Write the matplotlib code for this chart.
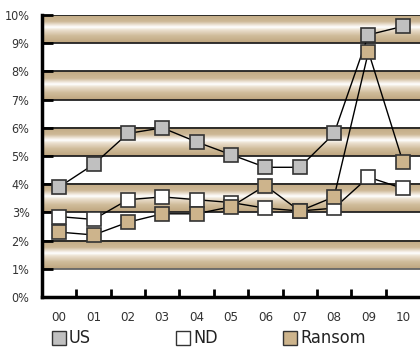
import matplotlib.pyplot as plt
import numpy as np
from matplotlib.colors import LinearSegmentedColormap
from matplotlib.lines import Line2D

plt.rcParams['font.family'] = ['DejaVu Sans']
plt.rcParams['font.stretch'] = 'condensed'

years = ['00', '01', '02', '03', '04', '05', '06', '07', '08', '09', '10']
us = [3.9, 4.7, 5.8, 6.0, 5.5, 5.05, 4.6, 4.6, 5.8, 9.3, 9.6]
nd = [2.85, 2.75, 3.45, 3.55, 3.45, 3.35, 3.15, 3.05, 3.15, 4.25, 3.85]
ransom = [2.3, 2.2, 2.65, 2.95, 2.95, 3.2, 3.95, 3.05, 3.55, 8.7, 4.8]
yticks = [0, 1, 2, 3, 4, 5, 6, 7, 8, 9, 10]
ytick_labels = ['%d%%' % v for v in yticks]
names = ['US', 'ND', 'Ransom']
colors = ['#c0c0c0', 'white', '#cdb48c']

fig = plt.figure(figsize=(4.2, 3.51), dpi=100)
ax = fig.add_axes([0.1, 0.154, 0.9, 0.803])
x = np.arange(len(years))
ax.set_xlim(-0.5, len(years) - 0.5)
ax.set_ylim(0, 10)

# shaded cylinder-style bands
band_cmap = LinearSegmentedColormap.from_list('band', [
    (0.0, '#c2aa84'), (0.25, '#cdb896'), (0.38, '#f0e8dc'), (0.45, '#ffffff'),
    (0.55, '#ebe0cf'), (0.75, '#d0bc9b'), (1.0, '#bea67e')])
grad = np.linspace(0, 1, 64).reshape(-1, 1)
for lo in [1, 3, 5, 7, 9]:
    ax.imshow(grad, cmap=band_cmap, aspect='auto', origin='upper',
              extent=(-0.5, len(years) - 0.5, lo, lo + 1), zorder=0)
for v in range(1, 11):
    ax.axhline(v, color='#222222' if v != 1 else '#666666', lw=1.3, zorder=1)

line_kw = dict(color='black', lw=1, marker='s', markersize=9.5,
               markeredgecolor='#333333', markeredgewidth=1.2, zorder=3)
for vals, c in zip([us, nd, ransom], colors):
    ax.plot(x, vals, markerfacecolor=c, **line_kw)

ax.set_yticks(yticks)
ax.set_yticklabels(ytick_labels, fontsize=9, color='#333333')
ax.set_xticks(x)
ax.set_xticklabels(years, fontsize=9.5, color='#333333')
ax.tick_params(axis='x', length=0, pad=10)
ax.set_xticks(np.arange(0.5, len(years) - 0.5), minor=True)
ax.tick_params(axis='x', which='minor', direction='in', length=6, width=2)
ax.tick_params(axis='y', direction='in', length=8, width=2, pad=9)

for s in ['top', 'right']:
    ax.spines[s].set_visible(False)
ax.spines['left'].set_linewidth(2.5)
ax.spines['bottom'].set_linewidth(2.5)

# legend placed by hand, as in the original
leg_y = 1 - 338 / 351
for name, c, mx in zip(names, colors, [58.5, 183, 290]):
    fig.add_artist(Line2D([mx / 420], [leg_y], transform=fig.transFigure,
                          ls='none', marker='s', markersize=9.5,
                          markerfacecolor=c, markeredgecolor='#333333'))
    fig.text((mx + 10) / 420, leg_y, name, fontsize=13, color='#222222',
             va='center', ha='left')

fig.savefig('out.png', dpi=100)
